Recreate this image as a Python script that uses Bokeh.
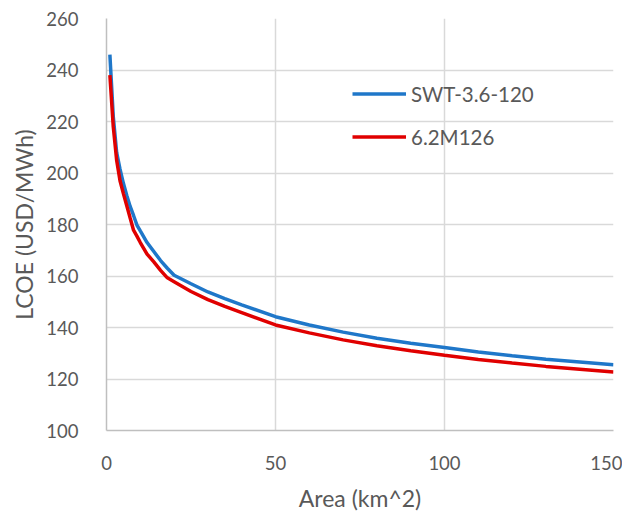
from bokeh.plotting import figure
from bokeh.models import Range1d, FixedTicker, Legend, LegendItem
from bokeh.embed import file_html
from bokeh.resources import INLINE

area = [1, 2, 3, 4, 5, 6, 7, 8, 9, 10, 12, 14, 16, 18, 20, 25, 30, 35, 40,
        50, 60, 70, 80, 90, 100, 110, 120, 130, 140, 150]
swt_3_6_120 = [246, 222, 208, 201.5, 196, 191.3, 187, 183.5, 179.8, 177.5,
               173, 169.5, 166, 163, 160.3, 157, 153.8, 151.2, 148.8,
               144.2, 141, 138.2, 135.8, 133.9, 132.2, 130.5, 129, 127.7, 126.6, 125.5]
m6_2_126 = [238, 218, 205, 197, 192, 187.3, 182.5, 177.8, 175.5, 173,
            168.5, 165.5, 162.2, 159.3, 157.8, 154, 150.8, 148.2, 145.8,
            141, 137.9, 135.2, 132.9, 131, 129.2, 127.6, 126.2, 124.9, 123.8, 122.7]
x_ticks = [0, 50, 100, 150]
y_ticks = [100, 120, 140, 160, 180, 200, 220, 240, 260]
series_names = ["SWT-3.6-120", "6.2M126"]

FONT = "Lato"
GREY = "#595959"

p = figure(frame_width=507, frame_height=412, output_backend="svg", toolbar_location=None,
           x_range=Range1d(0, 150), y_range=Range1d(100, 260),
           min_border_left=106, min_border_right=9, min_border_top=18, min_border_bottom=0)
p.outline_line_color = None

l1 = p.line(area, swt_3_6_120, line_color="#1f77c9", line_width=3.5)
l2 = p.line(area, m6_2_126, line_color="#e00000", line_width=3.5)

for ax in (p.xaxis[0], p.yaxis[0]):
    ax.major_tick_line_color = None
    ax.minor_tick_line_color = None
    ax.axis_line_color = "#bfbfbf"
    ax.axis_line_width = 1.5
    ax.major_label_text_font = FONT
    ax.major_label_text_font_size = "18.5px"
    ax.major_label_text_color = GREY
    ax.axis_label_text_font = FONT
    ax.axis_label_text_font_size = "23px"
    ax.axis_label_text_font_style = "normal"
    ax.axis_label_text_color = GREY

p.xaxis.ticker = FixedTicker(ticks=x_ticks)
p.yaxis.ticker = FixedTicker(ticks=y_ticks)
p.xaxis.axis_label = "Area (km^2)"
p.yaxis.axis_label = "LCOE (USD/MWh)"
p.xaxis.major_label_standoff = 19
p.yaxis.major_label_standoff = 22
p.xaxis.axis_label_standoff = 11
p.yaxis.axis_label_standoff = 5

p.xgrid.ticker = FixedTicker(ticks=x_ticks)
p.ygrid.ticker = FixedTicker(ticks=y_ticks)
p.xgrid.grid_line_color = "#d9d9d9"
p.ygrid.grid_line_color = "#d9d9d9"
p.xgrid.grid_line_width = 1.5
p.ygrid.grid_line_width = 1.5

legend = Legend(items=[LegendItem(label=series_names[0], renderers=[l1]),
                       LegendItem(label=series_names[1], renderers=[l2])],
                location=(246, 281), orientation="vertical")
legend.background_fill_alpha = 0
legend.border_line_color = None
legend.padding = 0
legend.margin = 0
legend.spacing = 18
legend.glyph_width = 54
legend.glyph_height = 25
legend.label_height = 25
legend.label_standoff = 5
legend.label_text_font = FONT
legend.label_text_font_size = "20.5px"
legend.label_text_color = GREY
p.add_layout(legend)

open("out.html", "w").write(file_html(p, INLINE))
